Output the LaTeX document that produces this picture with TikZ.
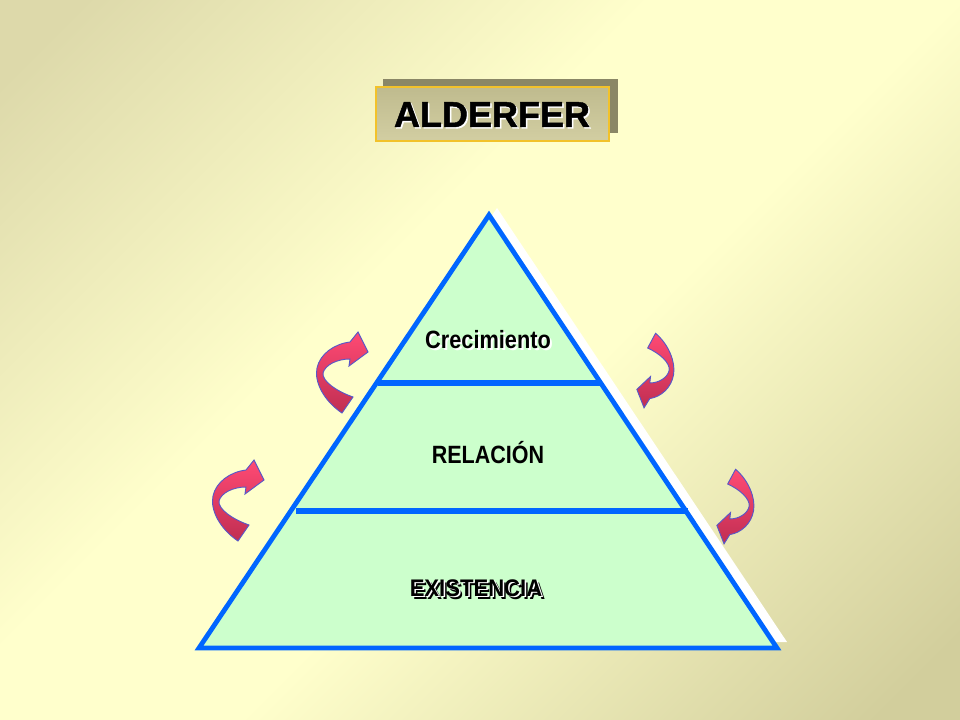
\documentclass[tikz,border=0pt]{standalone}
\usepackage{fontspec}
\setmainfont{Liberation Sans}
\newfontfamily\titlefont[FakeBold=1.3]{Liberation Sans Bold}
\newfontfamily\narrowA[FakeStretch=0.87]{Liberation Sans}
\newfontfamily\narrowB[FakeStretch=0.86]{Liberation Sans}
\newfontfamily\narrowC[FakeStretch=0.92]{Liberation Sans}
\definecolor{bgtl}{HTML}{DDD9AA}
\definecolor{bglight}{HTML}{FFFFCC}
\definecolor{bgbr}{HTML}{D2CE9C}
\definecolor{pblue}{HTML}{0066FF}
\definecolor{pgreen}{HTML}{CCFFCC}
\definecolor{tborder}{HTML}{F2C22A}
\definecolor{tshadow}{HTML}{8A8766}
\definecolor{tbtop}{HTML}{BFBB8E}
\definecolor{tbmid}{HTML}{FCFCF0}
\definecolor{tbbot}{HTML}{D2CEA2}
\definecolor{apink}{HTML}{FF4A74}
\definecolor{adark}{HTML}{C02E52}
\definecolor{aline}{HTML}{5858C8}
\pgfdeclarehorizontalshading{bgshade}{100bp}{color(0bp)=(bgtl); color(18bp)=(bgtl); color(42bp)=(bglight); color(55bp)=(bglight); color(82bp)=(bgbr); color(100bp)=(bgbr)}
\tikzset{
  pyr/.style={draw=pblue, line width=3.6pt, line join=miter, fill=pgreen},
  barline/.style={draw=pblue, line width=5pt},
  lbl/.style={inner sep=0pt, anchor=base},
  arrowfill/.style={draw=aline, line width=0.7pt, top color=apink, bottom color=adark},
  pics/curvarrow/.style={code={
    \shadedraw[arrowfill] (2,41) .. controls (-16,29) and (-26,10) .. (-23,-4)
      .. controls (-20,-18) and (-6,-28) .. (10,-30) -- (18,-40) -- (28,-20) -- (9,-6) -- (10,-13)
      .. controls (-3,-13) and (-15,-7) .. (-17,1)
      .. controls (-18,9) and (-4,19) .. (13,25) -- cycle;
  }}
}
\begin{document}
\begin{tikzpicture}[x=0.75pt,y=-0.75pt]
\useasboundingbox (0,0) rectangle (960,720);
\shade[shading=bgshade, shading angle=-45] (0,0) rectangle (960,720);

% title
\fill[tshadow] (383,79) rectangle (618,133);
\shadedraw[top color=tbtop, middle color=tbmid, bottom color=tbbot, draw=tborder, line width=1.5pt] (376,87) rectangle (609,141);
\node (titleglow) at (493.5,128.5) [lbl, text=white, font=\fontsize{27pt}{27pt}\titlefont] {ALDERFER};
\node (title) at (492,127) [lbl, font=\fontsize{27pt}{27pt}\titlefont] {ALDERFER};

% pyramid
\coordinate (apex) at (489,215);
\coordinate (bl) at (199,648);
\coordinate (br) at (777,648);
\fill[white] (497,208) -- (787,642) -- (207,642) -- cycle;
\draw[pyr] (apex) -- (br) -- (bl) -- cycle;
\draw[barline] (378,383) -- (600,383);
\draw[barline] (296,511) -- (688,511);

% labels
\node (crecglow) at (490,350) [lbl, text=white, font=\fontsize{18.75pt}{18.75pt}\narrowA\bfseries] {Crecimiento};
\node (crec) at (488,348) [lbl, font=\fontsize{18.75pt}{18.75pt}\narrowA\bfseries] {Crecimiento};
\node (rel) at (488,463) [lbl, font=\fontsize{18.75pt}{18.75pt}\narrowB\bfseries] {RELACIÓN};
\node (exshadow) at (479,599) [lbl, text=black, font=\fontsize{18pt}{18pt}\narrowC\bfseries] {EXISTENCIA};
\node (exwhite) at (477.5,597.5) [lbl, text=white, font=\fontsize{18pt}{18pt}\narrowC\bfseries] {EXISTENCIA};
\node (ex) at (476,596) [lbl, font=\fontsize{18pt}{18pt}\narrowC\bfseries] {EXISTENCIA};

% curved arrows
\pic (arrowLU) at (340,372) {curvarrow};
\pic (arrowLL) at (236,500) {curvarrow};
\pic (arrowRU) [rotate=180, xscale=0.72, yscale=0.92] at (657,371) {curvarrow};
\pic (arrowRL) [rotate=180, xscale=0.72, yscale=0.92] at (737,507) {curvarrow};
\end{tikzpicture}
\end{document}
